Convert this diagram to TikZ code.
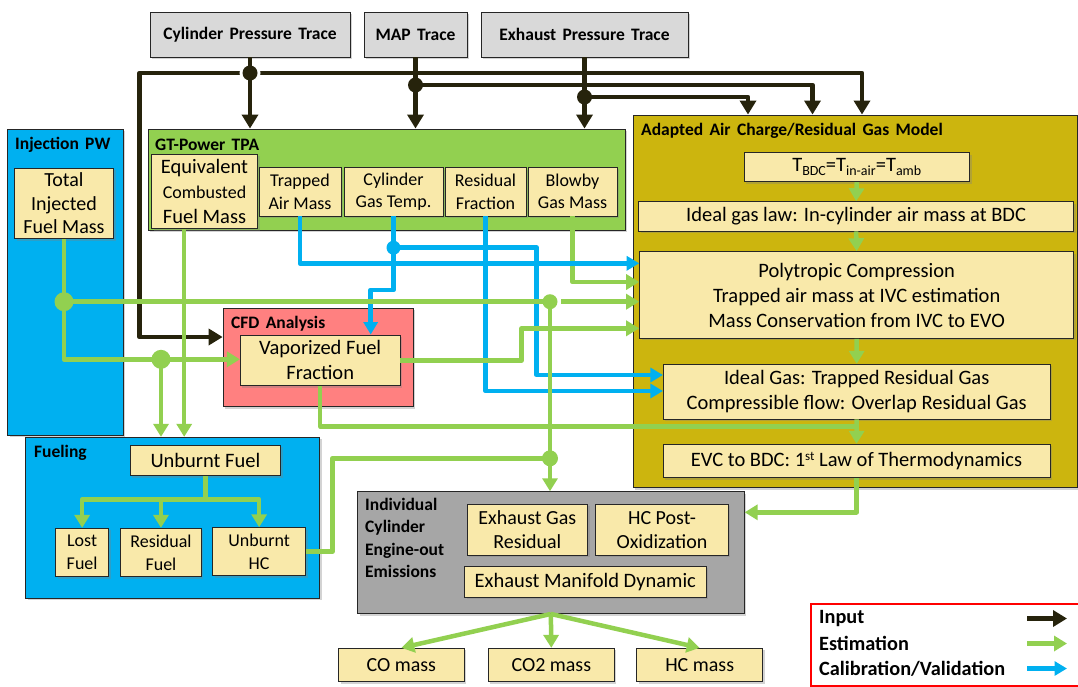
\documentclass[tikz,border=0pt]{standalone}
\usepackage{fontspec}
\setmainfont{Carlito}[BoldFeatures={WordSpace=1.6}]
\usetikzlibrary{arrows.meta,shadows}

\definecolor{inkblack}{RGB}{38,35,12}
\definecolor{estgreen}{RGB}{146,208,80}
\definecolor{calblue}{RGB}{0,176,240}
\definecolor{panelgold}{RGB}{204,181,14}
\definecolor{cream}{RGB}{249,233,170}
\definecolor{salmon}{RGB}{255,128,128}
\definecolor{greybox}{RGB}{166,166,166}
\definecolor{lightgrey}{RGB}{217,217,217}

\newcommand\bodyfont{\fontsize{20.5}{25}\selectfont}
\newcommand\smallfont{\fontsize{18}{22.5}\selectfont}
\newcommand\headfont{\fontsize{17.5}{20}\selectfont\bfseries}
\newcommand\titlefont{\fontsize{17.5}{22.3}\selectfont\bfseries}
\newcommand\legendfont{\fontsize{20.3}{22}\selectfont\bfseries}
\newcommand\lowtext[1]{\raisebox{-4pt}{\fontsize{14}{14}\selectfont #1}}
\newcommand\hightext[1]{\raisebox{6.5pt}{\fontsize{13}{13}\selectfont #1}}

\tikzset{
  box/.style={draw=black!85, line width=0.9pt, inner sep=1pt, align=center,
    drop shadow={shadow xshift=2pt, shadow yshift=-2pt, opacity=0.35}},
  cbox/.style={box, fill=cream, font=\bodyfont},
  sbox/.style={box, fill=cream, font=\smallfont},
  panel/.style={box, fill=#1},
  ptitle/.style={font=\titlefont, inner sep=0pt, anchor=west},
  inline/.style={draw=inkblack, line width=4.6pt, line join=round},
  inarrow/.style={inline, -{Triangle[length=14pt,width=16pt]}},
  estline/.style={draw=estgreen, line width=4.5pt, line join=round},
  estarrow/.style={estline, -{Triangle[length=13pt,width=15pt]}},
  calline/.style={draw=calblue, line width=4.5pt, line join=round},
  calarrow/.style={calline, -{Triangle[length=12.5pt,width=14pt]}},
}

\begin{document}
\begin{tikzpicture}[x=1pt, y=-1pt]
\useasboundingbox (0,0) rectangle (1078,686);

% ---------- measurement inputs ----------
\node[panel=lightgrey, minimum width=200pt, minimum height=45pt, font=\headfont] (cpt) at (250,34.5) {Cylinder Pressure Trace};
\node[panel=lightgrey, minimum width=103pt, minimum height=45pt, font=\headfont] (map) at (415.5,34.5) {MAP Trace};
\node[panel=lightgrey, minimum width=207pt, minimum height=45pt, font=\headfont] (ept) at (584.5,34.5) {Exhaust Pressure Trace};

% ---------- group panels ----------
\node[panel=calblue, minimum width=115.4pt, minimum height=306pt] (inj) at (65.3,282) {};
\node[ptitle] (injt) at (15,145) {Injection PW};
\node[panel=estgreen, minimum width=477pt, minimum height=101pt] (gt) at (386.5,179.5) {};
\node[ptitle] (gtt) at (155,145) {GT-Power TPA};
\node[panel=panelgold, minimum width=444pt, minimum height=372.7pt] (acm) at (855,301.35) {};
\node[ptitle] (acmt) at (641,131) {Adapted Air Charge/Residual Gas Model};
\node[panel=salmon, minimum width=190pt, minimum height=98.4pt] (cfd) at (318.1,357.5) {};
\node[ptitle] (cfdt) at (231,324) {CFD Analysis};
\node[panel=calblue, minimum width=293.8pt, minimum height=161pt] (fue) at (172.7,517.8) {};
\node[ptitle] (fuet) at (34,453) {Fueling};
\node[panel=greybox, minimum width=386.7pt, minimum height=121.8pt] (ice) at (550.85,552.6) {};
\node[font=\titlefont, inner sep=0pt, anchor=north west, align=left] (icet) at (365,498)
  {Individual\\Cylinder\\Engine-out\\Emissions};

% ---------- quantity boxes ----------
\node[cbox, minimum width=99pt, minimum height=70.7pt, font=\fontsize{20}{23.5}\selectfont] (tot) at (64,203.3) {Total\\Injected\\Fuel Mass};
\node[cbox, minimum width=106pt, minimum height=74.7pt] (eq) at (204.5,191.3)
  {Equivalent\\{\smallfont Combusted}\\Fuel Mass};
\node[sbox, minimum width=82pt, minimum height=48.3pt] (tam) at (300,191.8) {Trapped\\Air Mass};
\node[sbox, minimum width=99pt, minimum height=48.3pt] (cgt) at (393.5,191.8) {Cylinder\\Gas Temp.};
\node[sbox, minimum width=81pt, minimum height=48.3pt] (rf) at (485.5,191.8) {Residual\\Fraction};
\node[sbox, minimum width=89pt, minimum height=49pt] (bgm) at (572.5,191.5) {Blowby\\Gas Mass};

\node[cbox, minimum width=225.5pt, minimum height=29pt] (tbdc) at (856.75,167.2)
  {T\lowtext{BDC}=T\lowtext{in-air}=T\lowtext{amb}};
\node[cbox, minimum width=435.2pt, minimum height=29.3pt] (igl) at (856.1,216.35)
  {Ideal gas law: In-cylinder air mass at BDC};
\node[cbox, minimum width=434pt, minimum height=86.6pt] (poly) at (856.65,295)
  {Polytropic Compression\\Trapped air mass at IVC estimation\\Mass Conservation from IVC to EVO};
\node[cbox, minimum width=386.6pt, minimum height=54.7pt] (rgas) at (856.7,391.65)
  {Ideal Gas: Trapped Residual Gas\\Compressible flow: Overlap Residual Gas};
\node[cbox, minimum width=387pt, minimum height=33.4pt] (evc) at (856.5,461)
  {EVC to BDC: 1\hightext{st} Law of Thermodynamics};

\node[cbox, minimum width=159.6pt, minimum height=50.7pt] (vff) at (320.2,360.35) {Vaporized Fuel\\Fraction};

\node[cbox, minimum width=150.4pt, minimum height=30.7pt] (ubf) at (205.4,460.35) {Unburnt Fuel};
\node[sbox, minimum width=52.7pt, minimum height=48.4pt, font=\fontsize{18}{23}\selectfont] (lost) at (82.15,552.5) {Lost\\Fuel};
\node[sbox, minimum width=80.9pt, minimum height=48.4pt, font=\fontsize{18}{23}\selectfont] (resf) at (160.95,552.5) {Residual\\Fuel};
\node[sbox, minimum width=93.3pt, minimum height=48pt, font=\fontsize{18}{23}\selectfont] (uhc) at (259.15,551.7) {Unburnt\\HC};

\node[cbox, minimum width=120.6pt, minimum height=50.7pt, font=\fontsize{20}{24}\selectfont] (egr) at (527.3,529.65) {Exhaust Gas\\Residual};
\node[cbox, minimum width=132.4pt, minimum height=50.7pt, font=\fontsize{20}{24}\selectfont] (hcpo) at (662,529.65) {HC Post-\\Oxidization};
\node[cbox, minimum width=241.6pt, minimum height=31.3pt] (emd) at (585.3,581.65) {Exhaust Manifold Dynamic};

\node[sbox, minimum width=125.7pt, minimum height=33.4pt, font=\fontsize{20}{22}\selectfont] (co) at (401.35,665) {CO mass};
\node[sbox, minimum width=126pt, minimum height=33.2pt, font=\fontsize{20}{22}\selectfont] (co2) at (551.3,664.9) {CO2 mass};
\node[sbox, minimum width=126pt, minimum height=33.2pt, font=\fontsize{20}{22}\selectfont] (hc) at (699.7,664.9) {HC mass};

% ---------- helper rows and columns for routing ----------
\coordinate (yA) at (0,73);
\coordinate (yB) at (0,85);
\coordinate (yC) at (0,97);
\coordinate (yCfd) at (0,337);
\coordinate (xL) at (139.5,0);
\coordinate (xA) at (862,0);
\coordinate (xB) at (812.5,0);
\coordinate (xC) at (748,0);

\coordinate (jcp) at (cpt.south |- yA);
\coordinate (jmap) at (map.south |- yB);
\coordinate (jex) at (ept.south |- yC);

% ---------- input connectors ----------
\draw[inarrow] (jcp) -| (xA |- acm.north);
\draw[inarrow] (jcp) -| (xL |- yCfd) -- (cfd.west |- yCfd);
\fill[white] (jcp) circle (10.5pt);
\draw[inarrow] (jmap) -| (xB |- acm.north);
\draw[inarrow] (jex) -| (xC |- acm.north);
\draw[inarrow] (cpt.south) -- (cpt.south |- gt.north);
\draw[inarrow] (map.south) -- (map.south |- gt.north);
\draw[inarrow] (ept.south) -- (ept.south |- gt.north);
\fill[inkblack] (jcp) circle (7.5pt);
\fill[inkblack] (jmap) circle (7.5pt);
\fill[inkblack] (jex) circle (7.5pt);

% ---------- estimation/calibration routing ----------
\coordinate (yBlow) at (0,282);
\coordinate (yTam) at (0,263.3);
\coordinate (yJt) at (0,247.7);
\coordinate (yCv) at (0,290);
\coordinate (xCv) at (370.7,0);
\coordinate (xRg) at (536.7,0);
\coordinate (yRg1) at (0,375);
\coordinate (yRg2) at (0,391);
\coordinate (jt) at (cgt.south |- yJt);

\draw[estarrow] (bgm.south) |- (poly.west |- yBlow);

\draw[calarrow] (tam.south) |- (poly.west |- yTam);
\draw[calline] (cgt.south) -- (jt);
\draw[calarrow] (jt) -| (xRg |- yRg1) -- (rgas.west |- yRg1);
\draw[calarrow] (jt) |- (xCv |- yCv) -- (xCv |- vff.north);
\draw[calarrow] (rf.south) |- (rgas.west |- yRg2);
\fill[calblue] (jt) circle (7pt);

\coordinate (yM) at (0,301.7);
\coordinate (yN) at (0,359.3);
\coordinate (xD2) at (161,0);
\coordinate (xEq) at (184.2,0);
\coordinate (xVf) at (521.7,0);
\coordinate (yVf) at (0,328.3);
\coordinate (yS) at (0,426.7);
\coordinate (xU) at (332.3,0);
\coordinate (yV) at (0,512.3);
\coordinate (yTree) at (0,499.3);
\coordinate (d1) at (tot.south |- yM);
\coordinate (d2) at (xD2 |- yN);
\coordinate (d3) at (550,301.7);
\coordinate (d3r) at (561,301.7);
\coordinate (d4) at (550,458.3);
\coordinate (tree) at (ubf.south |- yTree);

\draw[estarrow] (tot.south) |- (vff.west |- yN);
\draw[estline] (d1) -- (d3);
\draw[estarrow] (d3r) -- (poly.west |- yM);
\draw[estarrow] (d3) -- (d3 |- ice.north);
\draw[estarrow] (d2) -- (d2 |- fue.north);
\draw[estarrow] (xEq |- eq.south) -- (xEq |- fue.north);
\draw[estarrow] (vff.east) -| (xVf |- yVf) -- (poly.west |- yVf);
\draw[estline] (vff.south) |- (evc.north |- yS);
\draw[estarrow] (tbdc.south) -- (igl.north);
\draw[estarrow] (igl.south) -- (poly.north);
\draw[estarrow] (poly.south) -- (rgas.north);
\draw[estarrow] (rgas.south) -- (evc.north);
\draw[estline] (uhc.east) -| (xU |- d4) -- (d4);
\draw[estarrow] (evc.south) |- (ice.east |- yV);
\draw[estarrow] (ice.south) -- (co.north);
\draw[estarrow] (ice.south) -- (co2.north);
\draw[estarrow] (ice.south) -- (hc.north);
\draw[estline] (ubf.south) -- (tree);
\draw[estarrow] (tree) -| (lost.north);
\draw[estarrow] (tree) -- (resf.north |- tree) -- (resf.north);
\draw[estarrow] (tree) -| (uhc.north);

\fill[estgreen] (d1) circle (9.5pt);
\fill[estgreen] (d2) circle (9.5pt);
\fill[estgreen] (d3) circle (7.5pt);
\fill[estgreen] (d4) circle (8pt);

% ---------- legend ----------
\node[draw=red, line width=2.2pt, minimum width=290pt, minimum height=82pt, anchor=north west, inner sep=0pt] (leg) at (810,603) {};
\node[font=\legendfont, anchor=west, inner sep=0pt] (lin) at (819,618.5) {Input};
\node[font=\legendfont, anchor=west, inner sep=0pt] (lest) at (819,643.5) {Estimation};
\node[font=\legendfont, anchor=west, inner sep=0pt] (lcal) at (819,668.5) {Calibration/Validation};
\coordinate (la1) at (1027,618.5);
\coordinate (lb1) at (1067,618.5);
\coordinate (la2) at (1027,643.5);
\coordinate (lb2) at (1067,643.5);
\coordinate (la3) at (1027,668.5);
\coordinate (lb3) at (1067,668.5);
\draw[inarrow] (la1) -- (lb1);
\draw[estarrow] (la2) -- (lb2);
\draw[calarrow] (la3) -- (lb3);
\end{tikzpicture}
\end{document}
